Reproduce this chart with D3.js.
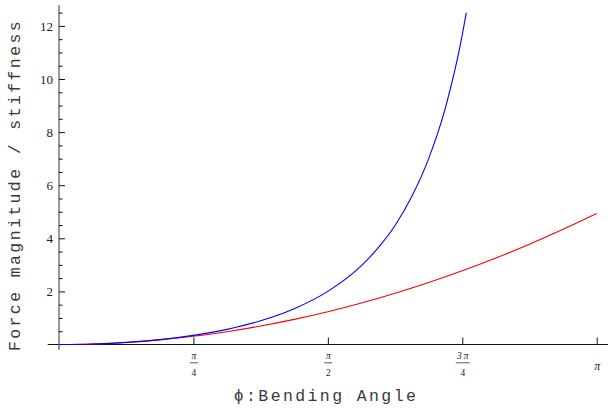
<!DOCTYPE html>
<meta charset="utf-8">
<style>
body { margin: 0; background: #fff; }
.tick text { font-family: "Liberation Serif", serif; fill: #222; }
.title { font-family: "Liberation Mono", monospace; font-size: 16.5px; letter-spacing: 2.4px; fill: #3a3a3a; }
</style>
<svg width="608" height="408"></svg>
<script src="https://cdn.jsdelivr.net/npm/d3@7"></script>
<script>

// phi given as multiples of pi
var bluePhi = [0, 0.0625, 0.125, 0.1875, 0.25, 0.3125, 0.375, 0.4375, 0.5, 0.5625, 0.59375,
               0.625, 0.65625, 0.6875, 0.71875, 0.75, 0.7575];
var blueForce = [0, 0.019, 0.079, 0.184, 0.343, 0.571, 0.893, 1.347, 2.0, 2.969, 3.646,
                 4.48, 5.58, 7.0, 8.92, 11.66, 12.5];

var redPhi = [0, 0.0625, 0.125, 0.1875, 0.25, 0.3125, 0.375, 0.4375, 0.5, 0.5625, 0.625,
              0.6875, 0.75, 0.8125, 0.875, 0.9375, 1];
var redForce = [0, 0.019, 0.077, 0.174, 0.308, 0.482, 0.694, 0.945, 1.234, 1.561, 1.928,
                2.333, 2.776, 3.258, 3.778, 4.337, 4.935];

var xTickVals = [0.25, 0.5, 0.75, 1];
var xTickTop = ["\u03C0", "\u03C0", "3\u2009\u03C0", "\u03C0"];
var xTickBottom = ["4", "2", "4", ""];
var yMajor = [2, 4, 6, 8, 10, 12];
var yMinor = [0.5, 1, 1.5, 2.5, 3, 3.5, 4.5, 5, 5.5, 6.5, 7, 7.5, 8.5, 9, 9.5, 10.5, 11, 11.5, 12.5];

var svg = d3.select("svg");

var x = d3.scaleLinear().domain([0, 1]).range([59, 596.7]),
    y = d3.scaleLinear().domain([0, 12]).range([344.5, 25.9]);

// axis lines
svg.append("line")
    .attr("x1", x(-0.021)).attr("x2", 608)
    .attr("y1", y(0)).attr("y2", y(0))
    .attr("stroke", "#111").attr("stroke-width", 1.2);

svg.append("line")
    .attr("x1", x(0)).attr("x2", x(0))
    .attr("y1", y(-0.2)).attr("y2", y(12.79))
    .attr("stroke", "#777").attr("stroke-width", 1.5);

// y axis ticks
svg.append("g")
    .attr("transform", "translate(" + x(0) + ",0)")
    .call(d3.axisLeft(y).tickValues(yMajor).tickSizeInner(-6).tickSizeOuter(0).tickPadding(6))
    .call(function(g) { g.select(".domain").remove(); })
    .call(function(g) {
      g.selectAll(".tick line").attr("stroke", "#111");
      g.selectAll(".tick text").style("font-size", "13px");
    });

svg.append("g")
    .attr("transform", "translate(" + x(0) + ",0)")
    .call(d3.axisLeft(y).tickValues(yMinor).tickSizeInner(-3.6).tickSizeOuter(0).tickFormat(""))
    .call(function(g) { g.select(".domain").remove(); })
    .call(function(g) { g.selectAll(".tick line").attr("stroke", "#111"); });

// x axis ticks
var xa = svg.append("g")
    .attr("transform", "translate(0," + y(0) + ")")
    .call(d3.axisBottom(x).tickValues(xTickVals).tickSizeInner(-7).tickSizeOuter(0).tickFormat(""))
    .call(function(g) { g.select(".domain").remove(); })
    .call(function(g) { g.selectAll(".tick line").attr("stroke", "#111"); });

xa.selectAll(".tick").each(function(d, i) {
  var t = d3.select(this);
  if (xTickBottom[i]) {
    t.append("text")
        .attr("y", 14).attr("text-anchor", "middle")
        .style("font-size", "9.5px").style("font-style", "italic")
        .text(xTickTop[i]);
    t.append("line")
        .attr("x1", i == 2 ? -7 : -4).attr("x2", i == 2 ? 7 : 4)
        .attr("y1", 18.3).attr("y2", 18.3)
        .attr("stroke", "#333").attr("stroke-width", 0.8);
    t.append("text")
        .attr("y", 31.5).attr("text-anchor", "middle")
        .style("font-size", "9.5px")
        .text(xTickBottom[i]);
  } else {
    t.append("text")
        .attr("y", 25).attr("text-anchor", "middle")
        .style("font-size", "12px").style("font-style", "italic")
        .text(xTickTop[i]);
  }
});

// curves
var line = d3.line()
    .x(function(d) { return x(d[0]); })
    .y(function(d) { return y(d[1]); })
    .curve(d3.curveMonotoneX);

svg.append("path")
    .datum(d3.zip(redPhi, redForce))
    .attr("fill", "none")
    .attr("stroke", "#ff0000")
    .attr("stroke-width", 1.1)
    .attr("d", line);

svg.append("path")
    .datum(d3.zip(bluePhi, blueForce))
    .attr("fill", "none")
    .attr("stroke", "#0000ff")
    .attr("stroke-width", 1.1)
    .attr("d", line);

// titles
svg.append("text")
    .attr("class", "title")
    .attr("x", 326).attr("y", 401)
    .attr("text-anchor", "middle")
    .text("\u03D5:Bending Angle");

svg.append("text")
    .attr("class", "title")
    .attr("transform", "translate(20,185) rotate(-90)")
    .attr("text-anchor", "middle")
    .text("Force magnitude / stiffness");

</script>
